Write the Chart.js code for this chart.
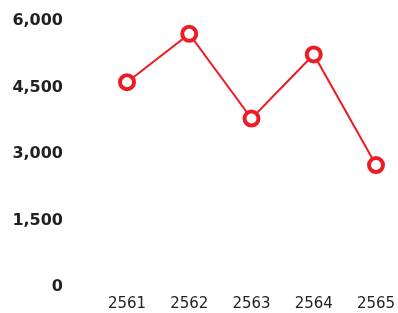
<!DOCTYPE html>
<html>
<head>
<meta charset="utf-8">
<script src="https://cdn.jsdelivr.net/npm/chart.js@4"></script>
<style>
  html, body { margin: 0; padding: 0; background: #fff; }
  canvas { display: block; }
</style>
</head>
<body>
<canvas id="myChart" width="398" height="313"></canvas>
<script>
// data
const years = ['2561', '2562', '2563', '2564', '2565'];
const values = [4620, 5710, 3800, 5245, 2750];
const yTicks = [0, 1500, 3000, 4500, 6000];

const red = '#ed1c24';

// config
const config = {
    type: 'line',
    data: {
        labels: years,
        datasets: [{
            data: values,
            borderColor: red,
            borderWidth: 2,
            pointRadius: 7,
            pointHoverRadius: 7,
            pointBorderWidth: 4,
            pointBackgroundColor: '#fff',
            pointBorderColor: red,
            tension: 0
        }]
    },
    options: {
        responsive: false,
        animation: false,
        layout: {
            padding: { left: 0, right: 22, top: 21, bottom: 0 }
        },
        plugins: {
            legend: { display: false },
            tooltip: { enabled: false }
        },
        scales: {
            x: {
                offset: false,
                grid: { display: false, drawTicks: false },
                border: { display: false },
                ticks: {
                    padding: 8,
                    maxRotation: 0,
                    color: '#222',
                    font: { family: 'DejaVu Sans', size: 15 }
                },
                afterFit: (axis) => {
                    axis.paddingLeft = 0;
                    axis.paddingRight = 0;
                    axis.height = 26;
                }
            },
            y: {
                min: yTicks[0],
                max: yTicks[yTicks.length - 1],
                afterBuildTicks: (axis) => {
                    axis.ticks = yTicks.map(v => ({ value: v }));
                },
                grid: { display: false, drawTicks: false },
                border: { display: false },
                ticks: {
                    padding: 64,
                    color: '#222',
                    font: { family: 'DejaVu Sans', size: 16, weight: 'bold' },
                    callback: (v) => Number(v).toLocaleString('en-US')
                },
                afterFit: (axis) => {
                    axis.width = 127;
                    axis.paddingTop = 0;
                    axis.paddingBottom = 0;
                }
            }
        }
    }
};

// render
const myChart = new Chart(document.getElementById('myChart'), config);
</script>
</body>
</html>
